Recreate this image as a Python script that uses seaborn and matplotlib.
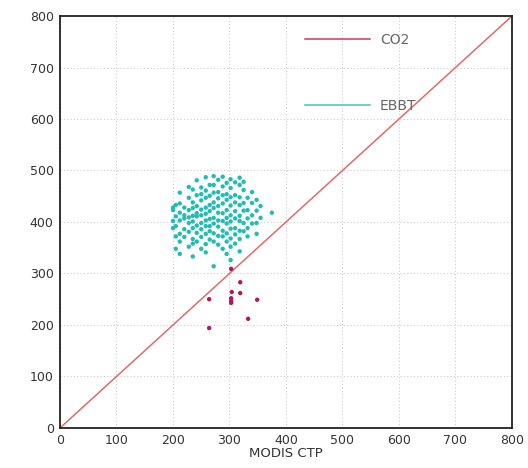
import numpy as np
import pandas as pd
import matplotlib
matplotlib.use("Agg")
import matplotlib.pyplot as plt
from matplotlib.lines import Line2D
import seaborn as sns

# EBBT points, grouped by MODIS CTP column
ebbt_cols = [200, 205, 212, 220, 228, 235, 242, 250, 258, 265, 272, 280,
             288, 295, 302, 310, 318, 325, 332, 340, 348, 355, 375]
ebbt_ys = [
    [423, 402, 388, 428],
    [411, 392, 372, 348, 433],
    [457, 436, 418, 403, 377, 362, 338],
    [428, 413, 407, 386, 371],
    [468, 447, 423, 409, 398, 381, 352],
    [463, 438, 427, 412, 401, 388, 367, 358, 333],
    [481, 452, 431, 417, 411, 393, 379, 362],
    [467, 454, 442, 424, 413, 398, 386, 371, 348],
    [487, 461, 447, 428, 416, 403, 392, 377, 357, 341],
    [472, 451, 433, 421, 406, 392, 382, 366],
    [489, 472, 457, 438, 427, 408, 397, 378, 362, 314],
    [482, 458, 446, 431, 418, 403, 391, 373, 356],
    [488, 469, 452, 436, 417, 402, 383, 372, 348],
    [476, 454, 443, 423, 408, 397, 378, 362, 338],
    [483, 466, 448, 432, 413, 401, 387, 368, 352, 326],
    [477, 452, 438, 421, 407, 388, 376, 358],
    [486, 472, 448, 433, 412, 402, 383, 367, 343],
    [478, 462, 437, 422, 398, 382],
    [447, 423, 407, 388, 372],
    [458, 437, 413, 397],
    [443, 422, 398, 377],
    [431, 408],
    [418],
]

# CO2 points
co2_x = [303, 319, 304, 319, 264, 303, 303, 303, 349, 333, 264]
co2_y = [309, 283, 264, 262, 250, 252, 247, 243, 249, 212, 194]

diag = [0, 800]
ticks = [0, 100, 200, 300, 400, 500, 600, 700, 800]

ebbt_x = [x for x, ys in zip(ebbt_cols, ebbt_ys) for _ in ys]
ebbt_y = [y for ys in ebbt_ys for y in ys]

df = pd.DataFrame({
    "x": ebbt_x + co2_x,
    "y": ebbt_y + co2_y,
    "type": ["EBBT"] * len(ebbt_x) + ["CO2"] * len(co2_x),
})

sns.set_style("white")
fig = plt.figure(figsize=(5.28, 4.68), dpi=100)
ax = fig.add_axes([0.1136, 0.0855, 0.8561, 0.8803])

ax.plot(diag, diag, color="#e06a6a", lw=1.1, zorder=1)
sns.scatterplot(data=df, x="x", y="y", hue="type",
                palette={"EBBT": "#1fbdb5", "CO2": "#b0185e"},
                s=10, linewidth=0, legend=False, ax=ax, zorder=3)

ax.set_xlim(0, 800)
ax.set_ylim(0, 800)
ax.set_xticks(ticks)
ax.set_yticks(ticks)
ax.grid(True, color="#cccccc", linestyle=(0, (1, 2)), lw=0.8)
for s in ax.spines.values():
    s.set_color("#222222")
    s.set_linewidth(1.3)
ax.tick_params(axis="both", direction="inout", length=5, width=1,
               labelsize=9, colors="#333333", pad=2)
ax.set_xlabel("MODIS CTP", fontsize=9.5, color="#333333", labelpad=0)
ax.set_ylabel("")

handles = [Line2D([], [], color="#c86a8c", lw=1.5),
           Line2D([], [], color="#6cd0d0", lw=1.5)]
leg = ax.legend(handles, ["CO2", "EBBT"], loc="upper left",
                bbox_to_anchor=(0.542, 0.958), frameon=False,
                fontsize=10, handlelength=4.7, handletextpad=0.7,
                labelspacing=3.7, borderpad=0, borderaxespad=0)
for t in leg.get_texts():
    t.set_color("#666666")

fig.savefig("out.png", dpi=100)
